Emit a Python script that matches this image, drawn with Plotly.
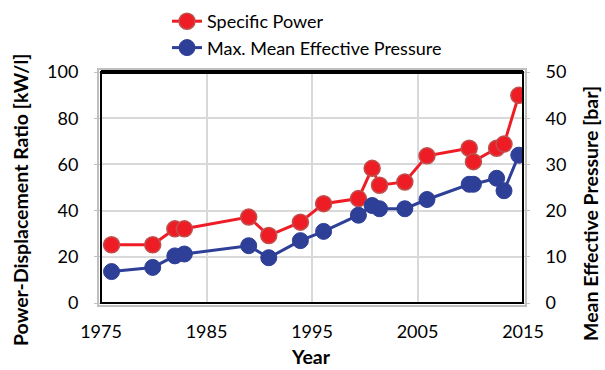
import plotly.graph_objects as go

years = [1976.0, 1979.9, 1982.0, 1982.9, 1989.0, 1990.9, 1993.9, 1996.1, 1999.4, 2000.7,
         2001.4, 2003.8, 2005.9, 2009.9, 2010.3, 2012.5, 2013.2, 2014.6]
specific_power = [25.2, 25.2, 32.1, 32.1, 37.2, 29.2, 35.0, 43.0, 45.2, 58.3,
                  51.0, 52.4, 63.7, 67.0, 61.2, 67.0, 68.8, 89.9]
mean_eff_pressure = [6.8, 7.7, 10.2, 10.6, 12.4, 9.8, 13.5, 15.5, 19.0, 21.1,
                     20.4, 20.4, 22.4, 25.7, 25.7, 27.0, 24.3, 32.0]
x_ticks = [1975, 1985, 1995, 2005, 2015]

W, H = 605, 370
ML, MR, MT, MB = 101, 82, 72, 67
PW, PH = W - ML - MR, H - MT - MB

FONT = "Lato"
RED = "#ee1c25"
BLUE = "#2e3f98"


def px_x(x):
    return (x - ML) / PW


def px_y(y):
    return (H - MB - y) / PH


fig = go.Figure()
fig.add_trace(go.Scatter(
    x=years, y=specific_power, name="Specific Power", mode="lines+markers",
    line=dict(color=RED, width=3),
    marker=dict(size=16, color=RED, line=dict(color="#c0504d", width=1.5)),
    legendgroup="a",
))
fig.add_trace(go.Scatter(
    x=years, y=mean_eff_pressure, name="Max. Mean Effective Pressure", mode="lines+markers",
    line=dict(color=BLUE, width=3),
    marker=dict(size=16, color=BLUE, line=dict(color=BLUE, width=1)),
    yaxis="y2", legendgroup="b",
))

dx = 3.0 / PW
dy = 3.0 / PH
shapes = [
    dict(type="rect", xref="paper", yref="paper", x0=-dx, x1=1 + dx, y0=-dy, y1=1 + dy,
         line=dict(color="#bfbfbf", width=2), layer="above"),
    dict(type="rect", xref="paper", yref="paper", x0=0, x1=1, y0=0, y1=1,
         line=dict(color="black", width=2), layer="above"),
    dict(type="line", xref="paper", yref="paper", x0=0, x1=1, y0=1, y1=1,
         line=dict(color="black", width=4), layer="above"),
]

TF = dict(family=FONT, size=19.5, color="black")
annotations = [
    dict(text="<b>Power-Displacement Ratio [kW/l]</b>", xref="paper", yref="paper",
         x=px_x(20), y=px_y(200), xanchor="center", yanchor="middle",
         textangle=-90, showarrow=False, font=TF),
    dict(text="<b>Mean Effective Pressure [bar]</b>", xref="paper", yref="paper",
         x=px_x(590), y=px_y(214), xanchor="center", yanchor="middle",
         textangle=-90, showarrow=False, font=TF),
    dict(text="<b>Year</b>", xref="paper", yref="paper",
         x=px_x(311), y=px_y(356), xanchor="center", yanchor="middle",
         showarrow=False, font=TF),
]

fig.update_layout(
    width=W, height=H,
    margin=dict(l=ML, r=MR, t=MT, b=MB, pad=0, autoexpand=False),
    paper_bgcolor="white", plot_bgcolor="white",
    font=dict(family=FONT, size=18, color="black"),
    showlegend=True,
    legend=dict(x=px_x(167), xanchor="left", y=px_y(3), yanchor="top",
                font=dict(family=FONT, size=18), tracegroupgap=0,
                bgcolor="rgba(0,0,0,0)"),
    xaxis=dict(
        range=[1975, 2015], tickvals=x_ticks, ticktext=[str(v) for v in x_ticks],
        showgrid=True, gridcolor="#d9d9d9", gridwidth=2,
        ticks="outside", ticklen=12, tickcolor="rgba(0,0,0,0)",
        zeroline=False, showline=False, automargin=False,
        tickfont=dict(size=18),
    ),
    yaxis=dict(
        range=[0, 100], dtick=20,
        showgrid=True, gridcolor="#d9d9d9", gridwidth=2,
        ticks="outside", ticklen=6, tickcolor="#bfbfbf", tickwidth=1,
        ticklabelstandoff=12,
        zeroline=False, showline=False, automargin=False,
        tickfont=dict(size=18),
    ),
    yaxis2=dict(
        range=[0, 50], dtick=10, overlaying="y", side="right",
        showgrid=False,
        ticks="outside", ticklen=6, tickcolor="#bfbfbf", tickwidth=1,
        ticklabelstandoff=12,
        zeroline=False, showline=False, automargin=False,
        tickfont=dict(size=18),
    ),
    shapes=shapes,
    annotations=annotations,
)

fig.write_html("out.html")
